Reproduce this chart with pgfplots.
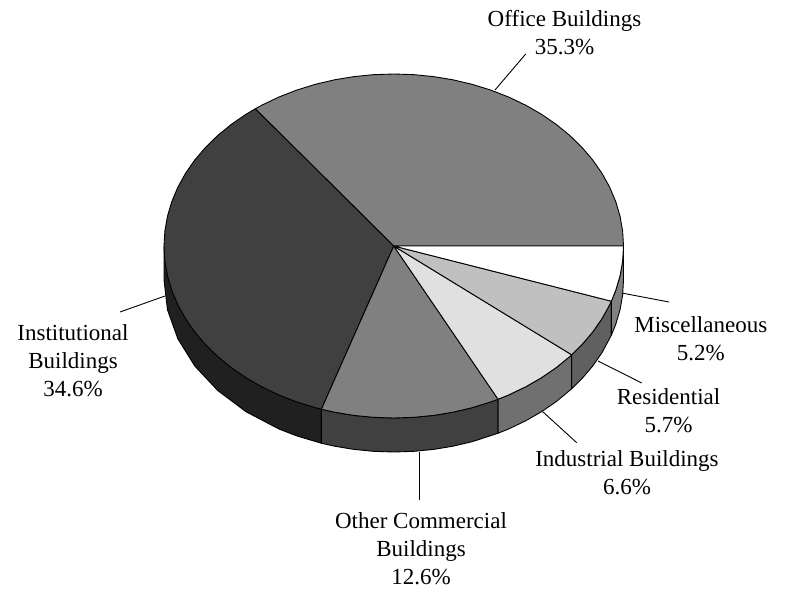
\documentclass[border=0pt]{standalone}
\usepackage{fontspec}
\setmainfont{Liberation Serif}
\usepackage{pgfplots}
\pgfplotsset{compat=1.18}
\definecolor{cA}{HTML}{808080}
\definecolor{cB}{HTML}{404040}
\definecolor{cBs}{HTML}{202020}
\definecolor{cD}{HTML}{E0E0E0}
\definecolor{cDs}{HTML}{707070}
\definecolor{cE}{HTML}{C0C0C0}
\definecolor{cEs}{HTML}{606060}
\pgfplotsset{
  pie/.style={/pgfplots/table/row sep=\\,
    /pgfplots/table/x expr={393.75+229.75*\thisrow{r}*cos(\thisrow{a})},
    /pgfplots/table/y expr={246-172*\thisrow{r}*sin(\thisrow{a})+34*\thisrow{d}}},
  slice/.style={fill=#1,draw=black,line width=0.9pt,line join=round,no markers},
  lead/.style={black,line width=0.9pt,no markers}}
\newcommand{\lab}[3]{\node[anchor=base,inner sep=0pt] at (axis cs:#1,#2)
  {\fontsize{23}{28}\selectfont\begin{tabular}[t]{@{}c@{}}#3\end{tabular}};}
\begin{document}
\begin{tikzpicture}
\useasboundingbox (0,0) rectangle (786pt,591pt);
\begin{axis}[at={(0,0)},anchor=south west,scale only axis,width=786pt,height=591pt,
  xmin=0,xmax=786,ymin=0,ymax=591,y dir=reverse,hide axis,clip=false]
% side walls
\addplot[slice=cBs] table[/pgfplots/pie]{a r d\\180 1 0\\190 1 0\\200 1 0\\210 1 0\\220 1 0\\230 1 0\\240 1 0\\245 1 0\\251.64 1 0\\251.64 1 1\\245 1 1\\240 1 1\\230 1 1\\220 1 1\\210 1 1\\200 1 1\\190 1 1\\180 1 1\\180 1 0\\};
\addplot[slice=cB] table[/pgfplots/pie]{a r d\\251.64 1 0\\255 1 0\\260 1 0\\265 1 0\\270 1 0\\275 1 0\\280 1 0\\285 1 0\\290 1 0\\297 1 0\\297 1 1\\290 1 1\\285 1 1\\280 1 1\\275 1 1\\270 1 1\\265 1 1\\260 1 1\\255 1 1\\251.64 1 1\\251.64 1 0\\};
\addplot[slice=cDs] table[/pgfplots/pie]{a r d\\297 1 0\\300 1 0\\305 1 0\\310 1 0\\315 1 0\\320.76 1 0\\320.76 1 1\\315 1 1\\310 1 1\\305 1 1\\300 1 1\\297 1 1\\297 1 0\\};
\addplot[slice=cEs] table[/pgfplots/pie]{a r d\\320.76 1 0\\325 1 0\\330 1 0\\335 1 0\\341.28 1 0\\341.28 1 1\\335 1 1\\330 1 1\\325 1 1\\320.76 1 1\\320.76 1 0\\};
\addplot[slice=cA] table[/pgfplots/pie]{a r d\\341.28 1 0\\345 1 0\\350 1 0\\355 1 0\\360 1 0\\360 1 1\\355 1 1\\350 1 1\\345 1 1\\341.28 1 1\\341.28 1 0\\};
% top faces
\addplot[slice=cA] table[/pgfplots/pie]{a r d\\0 0 0\\0 1 0\\5 1 0\\10 1 0\\15 1 0\\20 1 0\\25 1 0\\30 1 0\\35 1 0\\40 1 0\\45 1 0\\50 1 0\\55 1 0\\60 1 0\\65 1 0\\70 1 0\\75 1 0\\80 1 0\\85 1 0\\90 1 0\\95 1 0\\100 1 0\\105 1 0\\110 1 0\\115 1 0\\120 1 0\\125 1 0\\127.08 1 0\\0 0 0\\};
\addplot[slice=cB] table[/pgfplots/pie]{a r d\\0 0 0\\127.08 1 0\\130 1 0\\135 1 0\\140 1 0\\145 1 0\\150 1 0\\155 1 0\\160 1 0\\165 1 0\\170 1 0\\175 1 0\\180 1 0\\185 1 0\\190 1 0\\195 1 0\\200 1 0\\205 1 0\\210 1 0\\215 1 0\\220 1 0\\225 1 0\\230 1 0\\235 1 0\\240 1 0\\245 1 0\\250 1 0\\251.64 1 0\\0 0 0\\};
\addplot[slice=cA] table[/pgfplots/pie]{a r d\\0 0 0\\251.64 1 0\\255 1 0\\260 1 0\\265 1 0\\270 1 0\\275 1 0\\280 1 0\\285 1 0\\290 1 0\\295 1 0\\297 1 0\\0 0 0\\};
\addplot[slice=cD] table[/pgfplots/pie]{a r d\\0 0 0\\297 1 0\\300 1 0\\305 1 0\\310 1 0\\315 1 0\\320 1 0\\320.76 1 0\\0 0 0\\};
\addplot[slice=cE] table[/pgfplots/pie]{a r d\\0 0 0\\320.76 1 0\\325 1 0\\330 1 0\\335 1 0\\340 1 0\\341.28 1 0\\0 0 0\\};
\addplot[slice=white] table[/pgfplots/pie]{a r d\\0 0 0\\341.28 1 0\\345 1 0\\350 1 0\\355 1 0\\360 1 0\\0 0 0\\};
% leader lines
\addplot[lead] coordinates {(495,90) (525.7,54)};
\addplot[lead] coordinates {(621.7,293) (669,302)};
\addplot[lead] coordinates {(598,361) (641.7,383)};
\addplot[lead] coordinates {(542.7,411.7) (576.7,442.7)};
\addplot[lead] coordinates {(419,452) (419,500)};
\addplot[lead] coordinates {(165,296) (120,312)};
% labels
\lab{564.5}{27}{Office Buildings\\35.3\%}
\lab{700.8}{332}{Miscellaneous\\5.2\%}
\lab{668.5}{404}{Residential\\5.7\%}
\lab{627}{466}{Industrial Buildings\\6.6\%}
\lab{421}{528}{Other Commercial\\Buildings\\12.6\%}
\lab{73}{340}{Institutional\\Buildings\\34.6\%}
\end{axis}
\end{tikzpicture}
\end{document}
